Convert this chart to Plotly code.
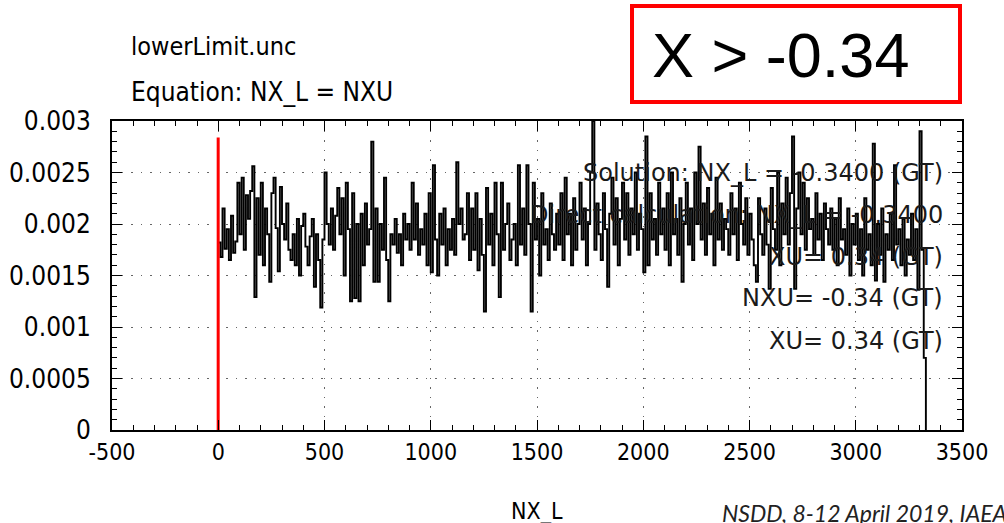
import numpy as np
import plotly.graph_objects as go

# ---- data ----
bin_start = 0
bin_width = 10
counts = [
    0.00182, 0.00168, 0.00215, 0.00176, 0.00195, 0.00165, 0.00208, 0.00172, 0.00183, 0.00240,
    0.00190, 0.00245, 0.00175, 0.00228, 0.00205, 0.00232, 0.00256, 0.00129, 0.00225, 0.00170,
    0.00240, 0.00160, 0.00215, 0.00190, 0.00144, 0.00230, 0.00245, 0.00196, 0.00154, 0.00236,
    0.00200, 0.00185, 0.00220, 0.00175, 0.00165, 0.00190, 0.00160, 0.00205, 0.00150, 0.00198,
    0.00210, 0.00178, 0.00160, 0.00188, 0.00205, 0.00139, 0.00190, 0.00165, 0.00119, 0.00185,
    0.00250, 0.00200, 0.00180, 0.00215, 0.00175, 0.00208, 0.00235, 0.00190, 0.00225, 0.00150,
    0.00240, 0.00195, 0.00125, 0.00230, 0.00128, 0.00200, 0.00125, 0.00210, 0.00160, 0.00220,
    0.00180, 0.00195, 0.00280, 0.00144, 0.00215, 0.00144, 0.00200, 0.00175, 0.00245, 0.00165,
    0.00125, 0.00190, 0.00180, 0.00205, 0.00172, 0.00190, 0.00160, 0.00210, 0.00185, 0.00200,
    0.00175, 0.00240, 0.00185, 0.00220, 0.00170, 0.00195, 0.00180, 0.00210, 0.00160, 0.00230,
    0.00153, 0.00257, 0.00185, 0.00150, 0.00210, 0.00180, 0.00215, 0.00160, 0.00195, 0.00175,
    0.00205, 0.00170, 0.00260, 0.00200, 0.00215, 0.00185, 0.00190, 0.00230, 0.00165, 0.00215,
    0.00175, 0.00230, 0.00155, 0.00205, 0.00170, 0.00115, 0.00235, 0.00180, 0.00210, 0.00160,
    0.00240, 0.00190, 0.00129, 0.00240, 0.00175, 0.00200, 0.00220, 0.00165, 0.00185, 0.00200,
    0.00160, 0.00257, 0.00180, 0.00215, 0.00170, 0.00257, 0.00200, 0.00115, 0.00240, 0.00185,
    0.00205, 0.00150, 0.00230, 0.00180, 0.00195, 0.00165, 0.00220, 0.00190, 0.00175, 0.00210,
    0.00180, 0.00230, 0.00165, 0.00245, 0.00190, 0.00210, 0.00160, 0.00225, 0.00175, 0.00200,
    0.00240, 0.00185, 0.00215, 0.00160, 0.00200, 0.00250, 0.00300, 0.00175, 0.00220, 0.00190,
    0.00165, 0.00230, 0.00195, 0.00139, 0.00210, 0.00245, 0.00180, 0.00225, 0.00160, 0.00205,
    0.00240, 0.00185, 0.00230, 0.00170, 0.00215, 0.00190, 0.00250, 0.00175, 0.00210, 0.00195,
    0.00153, 0.00285, 0.00160, 0.00230, 0.00185, 0.00205, 0.00170, 0.00240, 0.00190, 0.00215,
    0.00175, 0.00230, 0.00160, 0.00250, 0.00190, 0.00205, 0.00170, 0.00225, 0.00144, 0.00200,
    0.00240, 0.00180, 0.00215, 0.00165, 0.00250, 0.00200, 0.00275, 0.00185, 0.00220, 0.00170,
    0.00235, 0.00190, 0.00210, 0.00160, 0.00245, 0.00185, 0.00220, 0.00175, 0.00205, 0.00195,
    0.00170, 0.00230, 0.00190, 0.00215, 0.00165, 0.00240, 0.00200, 0.00180, 0.00225, 0.00170,
    0.00210, 0.00185, 0.00160, 0.00144, 0.00225, 0.00190, 0.00170, 0.00215, 0.00180, 0.00137,
    0.00235, 0.00195, 0.00175, 0.00250, 0.00160, 0.00220, 0.00190, 0.00245, 0.00180, 0.00230,
    0.00285, 0.00137, 0.00215, 0.00250, 0.00190, 0.00240, 0.00175, 0.00225, 0.00195, 0.00205,
    0.00170, 0.00230, 0.00185, 0.00210, 0.00165, 0.00220, 0.00195, 0.00180, 0.00215, 0.00175,
    0.00205, 0.00160, 0.00225, 0.00185, 0.00195, 0.00170, 0.00215, 0.00150, 0.00200, 0.00180,
    0.00210, 0.00165, 0.00195, 0.00150, 0.00225, 0.00175, 0.00190, 0.00160, 0.00278, 0.00145,
    0.00200, 0.00170, 0.00215, 0.00144, 0.00190, 0.00175, 0.00210, 0.00165, 0.00257, 0.00180,
    0.00195, 0.00160, 0.00205, 0.00150, 0.00185, 0.00170, 0.00210, 0.00165, 0.00195, 0.00136,
    0.00290, 0.00175, 0.00070,
]
threshold_x = -0.34
threshold_top = 0.00284

x_ticks = [-500, 0, 500, 1000, 1500, 2000, 2500, 3000, 3500]
y_ticks = [0, 0.0005, 0.001, 0.0015, 0.002, 0.0025, 0.003]
y_tick_labels = ["0", "0.0005", "0.001", "0.0015", "0.002", "0.0025", "0.003"]

info_lines = [
    ("Solution: NX_L = -0.3400 (GT)", 0.0025),
    ("Direct calculation: NX_L = -0.3400", 0.00209),
    ("XU= 0.34 (GT)", 0.00168),
    ("NXU= -0.34 (GT)", 0.00128),
    ("XU= 0.34 (GT)", 0.00086),
]

# ---- layout geometry (pixels) ----
W, H = 1004, 523
PL, PR, PT, PB = 112, 962, 121, 430


def px(xpix):
    return (xpix - PL) / (PR - PL)


def py(ypix):
    return (PB - ypix) / (PB - PT)


# ---- build step outline ----
edges = [bin_start + i * bin_width for i in range(len(counts) + 1)]
xs = edges
ys = counts + [0]

fig = go.Figure()
fig.add_trace(go.Scatter(
    x=xs, y=ys, mode="lines", line=dict(shape="hv", color="black", width=1.9),
    hoverinfo="skip", showlegend=False))
fig.add_trace(go.Scatter(
    x=[threshold_x, threshold_x], y=[0, threshold_top], mode="lines",
    line=dict(color="#ff0000", width=3), showlegend=False))

font_xtick = dict(family="DejaVu Sans Condensed", size=23, color="black")
font_ytick = dict(family="DejaVu Sans Condensed", size=26, color="black")

fig.update_xaxes(
    range=[-500, 3500], tickvals=x_ticks, ticktext=[str(v) for v in x_ticks],
    ticks="inside", ticklen=10, tickwidth=1.2, tickcolor="black",
    showline=True, linewidth=2, linecolor="black", mirror="allticks",
    showgrid=True, gridcolor="#666", griddash="1.5px,8px", gridwidth=1.2,
    zeroline=False, tickfont=font_xtick,
    minor=dict(ticks="inside", ticklen=5, dtick=100, tickcolor="black", showgrid=False),
)
fig.update_yaxes(
    range=[0, 0.003], tickvals=y_ticks, ticktext=y_tick_labels,
    ticks="inside", ticklen=10, tickwidth=1.2, tickcolor="black",
    showline=True, linewidth=2, linecolor="black", mirror="allticks",
    showgrid=True, gridcolor="#666", griddash="1.5px,8px", gridwidth=1.2,
    zeroline=False, tickfont=font_ytick, ticklabelstandoff=14,
    minor=dict(ticks="inside", ticklen=5, dtick=0.0001, tickcolor="black", showgrid=False),
)

annotations = []
for txt, yv in info_lines:
    annotations.append(dict(
        x=px(945), xref="paper", y=yv, yref="y", text=txt, showarrow=False,
        xanchor="right", yanchor="middle",
        font=dict(family="DejaVu Sans", size=24, color="#1a1a1a")))

annotations += [
    dict(x=px(129), xref="paper", y=py(47), yref="paper",
         yanchor="middle", xanchor="left", text="lowerLimit.unc", showarrow=False,
         font=dict(family="DejaVu Sans Condensed", size=25, color="black")),
    dict(x=px(129), xref="paper", y=py(92), yref="paper",
         yanchor="middle", xanchor="left", text="Equation: NX_L = NXU", showarrow=False,
         font=dict(family="DejaVu Sans Condensed", size=26, color="black")),
    dict(x=px(537), xref="paper", y=py(496), yref="paper",
         yanchor="top", xanchor="center", text="NX_L", showarrow=False,
         font=dict(family="DejaVu Sans Condensed", size=23, color="black")),
    dict(x=px(720), xref="paper", y=py(497), yref="paper",
         yanchor="top", xanchor="left", text="<i>NSDD, 8-12 April 2019, IAEA</i>",
         showarrow=False,
         font=dict(family="Lato", size=23, color="#222")),
    dict(x=px(650), xref="paper", y=py(55), yref="paper",
         yanchor="middle", xanchor="left", text="X > -0.34", showarrow=False,
         font=dict(family="Liberation Sans", size=63, color="black")),
]

fig.update_layout(
    width=W, height=H,
    margin=dict(l=PL, r=W - PR, t=PT, b=H - PB, autoexpand=False),
    paper_bgcolor="white", plot_bgcolor="white",
    annotations=annotations,
    shapes=[dict(type="rect", xref="paper", yref="paper",
                 x0=px(632), x1=px(960), y0=py(102), y1=py(6),
                 line=dict(color="#ff0000", width=4), fillcolor="rgba(0,0,0,0)")],
)

fig.write_html("out.html", config={"displayModeBar": False},
               post_script="document.body.style.margin='0';document.body.style.padding='0';")
